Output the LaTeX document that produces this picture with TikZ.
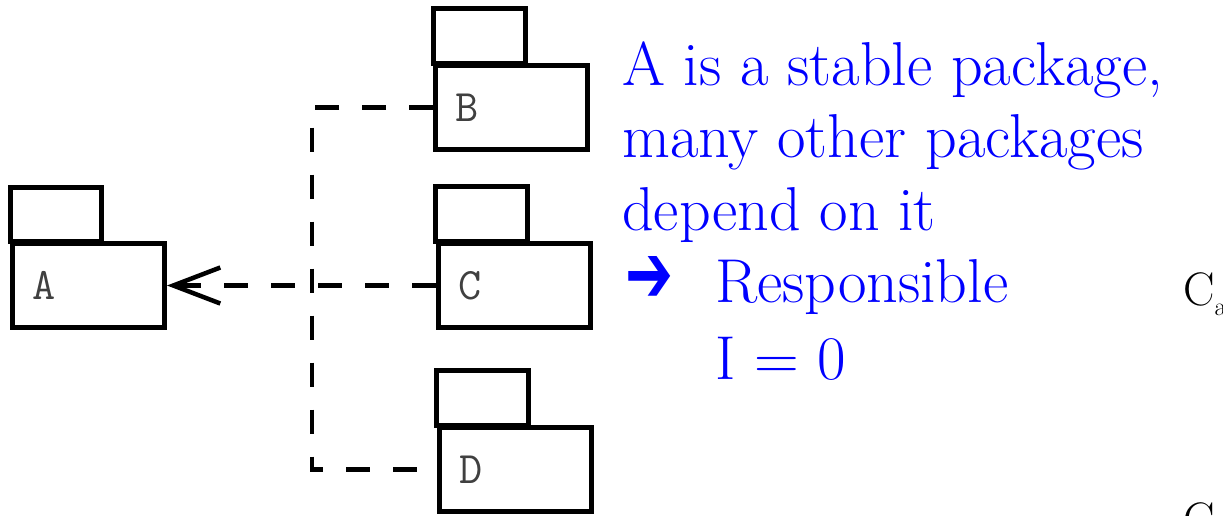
\documentclass[tikz,border=0pt]{standalone}
\usepackage{fontspec}
\usepackage{tikz}
\usetikzlibrary{arrows.meta}
\newfontfamily\arrowfont{DejaVu Sans}
\definecolor{noteblue}{RGB}{0,0,255}

\tikzset{
	pkg/.style={draw, line width=5pt, minimum width=152pt, minimum height=84pt,
		text width=112pt, inner xsep=20pt, align=left,
		font=\ttfamily\fontsize{45}{45}\selectfont, text=black!75},
	pkgtab/.style={line width=5pt},
	dep/.style={line width=4.5pt, dash pattern=on 24pt off 23pt},
	note/.style={inner sep=0pt, align=left, text=noteblue,
		font=\fontsize{62}{72.5}\selectfont},
}

\begin{document}
\begin{tikzpicture}[x=1pt,y=1pt,yscale=-1,xscale=1]
	\useasboundingbox (0,0) rectangle (1223,515);
	
	%Package A
	\node[pkg] (A) at (88.5,285.5) {A};
	\draw[pkgtab] (A.north west) rectangle ++(91,-54);
	%Package B
	\node[pkg] (B) at (511.5,107.5) {B};
	\draw[pkgtab] (B.north west) rectangle ++(92,-55);
	%Package C
	\node[pkg] (C) at (514,285.5) {C};
	\draw[pkgtab] (C.north west) rectangle ++(92,-55);
	%Package D
	\node[pkg] (D) at (515,469.5) {D};
	\draw[pkgtab] (D.north west) rectangle ++(92,-55);
	
	%Dependencies
	\coordinate (fork) at (312,285.5);
	\draw[dep] (B.west) -| (fork) |- (D.west);
	\draw[dep,-{Straight Barb[length=47pt,width=36pt]}] (C.west) -- (A.east);
	
	% Text Node (base = last line)
	\node[note, anchor=base west] (note) at (622,379) {A is a stable package,\\
		many other packages\\
		depend on it\\
		\hspace*{3pt}\makebox[90pt][l]{\raisebox{0pt}{\resizebox{48pt}{46pt}{\arrowfont ➔}}}Responsible\\[4pt]
		\hspace*{93pt}I = 0};
	% Text Node
	\node[anchor=base west, inner sep=0pt, font=\fontsize{47}{47}\selectfont] (Ca) at (1183,305) {C\raisebox{-10pt}{\fontsize{26}{26}\selectfont a}};
	% Text Node
	\node[anchor=base west, inner sep=0pt, font=\fontsize{47}{47}\selectfont] (Ce) at (1183,535) {C};
	
\end{tikzpicture}
\end{document}
